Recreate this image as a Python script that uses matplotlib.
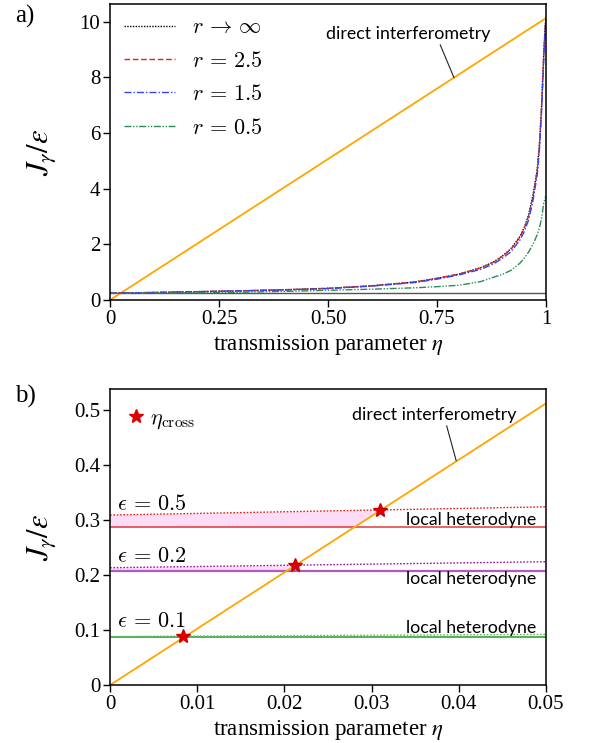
import numpy as np
import matplotlib
matplotlib.use("Agg")
import matplotlib.pyplot as plt
from matplotlib.lines import Line2D

plt.rcParams['font.family'] = ['Liberation Serif', 'DejaVu Serif']
plt.rcParams['mathtext.fontset'] = 'cm'

# ---------------- data: panel a ----------------
eta_a = [0.0, 0.1, 0.2, 0.3, 0.4, 0.5, 0.6, 0.7, 0.75, 0.8, 0.85, 0.88, 0.9, 0.92,
         0.94, 0.95, 0.96, 0.97, 0.98, 0.985, 0.99, 0.995, 0.998, 1.0]
J_rinf = [0.25, 0.27, 0.30, 0.33, 0.37, 0.42, 0.51, 0.65, 0.78, 0.93, 1.16, 1.37, 1.58, 1.85,
          2.28, 2.60, 3.05, 3.75, 4.70, 5.60, 7.00, 8.90, 9.80, 10.13]
J_r25 = [0.25, 0.27, 0.30, 0.33, 0.37, 0.42, 0.51, 0.65, 0.78, 0.93, 1.15, 1.36, 1.57, 1.83,
         2.25, 2.57, 3.01, 3.70, 4.65, 5.55, 6.95, 8.85, 9.75, 10.1]
J_r15 = [0.25, 0.27, 0.30, 0.33, 0.36, 0.41, 0.50, 0.63, 0.75, 0.90, 1.10, 1.30, 1.50, 1.74,
         2.15, 2.45, 2.87, 3.55, 4.50, 5.40, 6.80, 8.70, 9.70, 10.1]
J_r05 = [0.24, 0.25, 0.26, 0.28, 0.31, 0.35, 0.39, 0.44, 0.48, 0.53, 0.66, 0.82, 0.92, 1.07,
         1.32, 1.50, 1.72, 2.00, 2.35, 2.58, 2.95, 3.50, 3.65, 3.75]
r_labels = [r'$r\,\rightarrow\,\infty$', r'$r\,=\,2.5$', r'$r\,=\,1.5$', r'$r\,=\,0.5$']
direct_a_eta = [0.0, 1.0]
direct_a_J = [0.0, 10.13]
lh_a = 0.24

# ---------------- data: panel b ----------------
eta_b = [0.0, 0.05]
direct_b_J = [0.0, 0.512]
eps_labels = [r'$\epsilon\,=\,0.5$', r'$\epsilon\,=\,0.2$', r'$\epsilon\,=\,0.1$']
lh_solid = [0.2867, 0.2078, 0.0879]
opt_start = [0.309, 0.2133, 0.0883]
opt_end = [0.324, 0.2242, 0.0921]
cross_eta = [0.0310, 0.0212, 0.0084]
cross_J = [0.3175, 0.2178, 0.0885]

# ---------------- styles ----------------
orange = '#ffa500'
solid_cols = ['#e03a3a', '#b05ac0', '#2a9a2a']
dot_cols = ['#e02020', '#9a1a9a', '#66bb66']
fill_cols = ['#fcdcf7', '#fcdcf7', '#fcdcf7']
sans = 'Lato'

fig = plt.figure(figsize=(5.98, 7.43), dpi=100)
axa = fig.add_axes([0.184, 0.5962, 0.729, 0.3984])
axb = fig.add_axes([0.184, 0.0780, 0.729, 0.3980])

# ---- panel a ----
axa.axhline(lh_a, color='#555555', lw=1.0)
axa.plot(direct_a_eta, direct_a_J, color=orange, lw=1.3)
styles = [dict(color='black', ls=(0, (1, 1)), lw=1.0),
          dict(color='#dd2222', ls=(0, (4, 2)), lw=1.0),
          dict(color='#3344ee', ls=(0, (5, 1.5, 1, 1.5)), lw=1.0),
          dict(color='#2e8b57', ls=(0, (5, 1.2, 1, 1.2, 1, 1.2)), lw=1.0)]
for J, lab, st in zip([J_rinf, J_r25, J_r15, J_r05], r_labels, styles):
    axa.plot(eta_a, J, label=lab, **st)
axa.set_xlim(0, 1)
axa.set_ylim(0, None)
axa.set_xticks([0, 0.25, 0.5, 0.75, 1.0])
axa.set_xticklabels(['0', '0.25', '0.50', '0.75', '1'])
axa.set_yticks([0, 2, 4, 6, 8, 10])
axa.legend(loc='upper left', frameon=False, fontsize=16, handlelength=2.3,
           handletextpad=0.75, labelspacing=0.58, borderaxespad=0.22,
           bbox_to_anchor=(0, 1))
axa.annotate('direct interferometry', xy=(0.789, 7.99), xytext=(0.683, 9.56),
             ha='center', va='center', fontsize=12.8, family=sans,
             arrowprops=dict(arrowstyle='-', color='#222222', lw=0.8,
                             relpos=(0.69, 0.0), shrinkA=0, shrinkB=0))

# ---- panel b ----
eta_dense = np.linspace(eta_b[0], eta_b[1], 2001)
orange_dense = np.interp(eta_dense, eta_b, direct_b_J)
for i in range(3):
    dotted = np.interp(eta_dense, eta_b, [opt_start[i], opt_end[i]])
    lower = np.maximum(lh_solid[i], orange_dense)
    axb.fill_between(eta_dense, lower, dotted, where=lower <= dotted,
                     color=fill_cols[i], lw=0, interpolate=True)
    axb.plot(eta_b, [lh_solid[i], lh_solid[i]], color=solid_cols[i],
             lw=1.6 if i == 1 else 1.1)
    axb.plot(eta_b, [opt_start[i], opt_end[i]], color=dot_cols[i],
             ls=(0, (1.2, 1.2)), lw=1.0)
axb.plot(eta_b, direct_b_J, color=orange, lw=1.3)
axb.plot(cross_eta, cross_J, ls='none', marker='*', ms=10, color='#dd0000',
         mec='#cc0000', zorder=5)
eps_y = [0.318, 0.224, 0.106]
for lab, y in zip(eps_labels, eps_y):
    axb.text(0.0008, y, lab, fontsize=16, va='baseline', ha='left')
lh_y = [0.300, 0.192, 0.103]
for y in lh_y:
    axb.text(0.0489, y, 'local heterodyne', fontsize=12.8, family=sans,
             ha='right', va='center')
axb.annotate('direct interferometry', xy=(0.0397, 0.408), xytext=(0.0372, 0.491),
             ha='center', va='center', fontsize=12.8, family=sans,
             arrowprops=dict(arrowstyle='-', color='#222222', lw=0.8,
                             relpos=(0.57, 0.0), shrinkA=0, shrinkB=0))
axb.set_xlim(0, 0.05)
axb.set_ylim(0, None)
axb.set_xticks([0, 0.01, 0.02, 0.03, 0.04, 0.05])
axb.set_xticklabels(['0', '0.01', '0.02', '0.03', '0.04', '0.05'])
axb.set_yticks([0, 0.1, 0.2, 0.3, 0.4, 0.5])
axb.set_yticklabels(['0', '0.1', '0.2', '0.3', '0.4', '0.5'])
star_handle = Line2D([], [], ls='none', marker='*', ms=10, color='#dd0000')
axb.legend([star_handle], [r'$\eta_{\rm cross}$'], loc='upper left', frameon=False,
           fontsize=16, handlelength=0.6, handletextpad=0.35, borderaxespad=0.45,
           bbox_to_anchor=(0, 1))

for ax, lab in zip([axa, axb], ['a)', 'b)']):
    ax.tick_params(direction='out', length=5, width=1, labelsize=15, pad=2)
    for sp in ax.spines.values():
        sp.set_linewidth(1.1)
    ax.set_xlabel(r'transmission parameter $\eta$', fontsize=16.5,
                  math_fontfamily='stix', labelpad=3)
    ax.set_ylabel(r'$J_\gamma/\epsilon$', fontsize=22, math_fontfamily='stix',
                  labelpad=14)
    ax.yaxis.set_label_coords(-0.12, 0.5)

fig.text(0.025, 0.978, 'a)', fontsize=18, va='center', ha='left')
fig.text(0.025, 0.466, 'b)', fontsize=18, va='center', ha='left')

fig.savefig('out.png', dpi=100)
